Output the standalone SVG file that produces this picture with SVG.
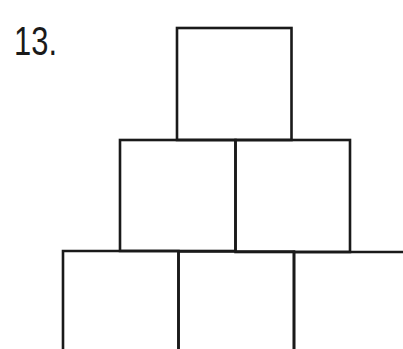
<svg xmlns="http://www.w3.org/2000/svg" width="403" height="349" viewBox="0 0 403 349">
<style>
.box{fill:none;stroke:#1a1a1a;stroke-width:2.6;stroke-linejoin:miter}
.lbl{font-family:"Liberation Sans",Arial,sans-serif;font-size:41px;fill:#1a1a1a}
</style>
<rect width="403" height="349" fill="#ffffff"/>
<text class="lbl" x="14" y="54.5" textLength="43" lengthAdjust="spacingAndGlyphs">13.</text>
<g id="top"><rect class="box" x="177" y="28" width="114.5" height="112"/></g>
<g id="mid-left"><rect class="box" x="120" y="140" width="115.5" height="111"/></g>
<g id="mid-right"><rect class="box" x="235.5" y="140" width="114.5" height="112"/></g>
<g id="bot-left"><path class="box" d="M63,352 V251 H178.5 V352"/></g>
<g id="bot-mid"><path class="box" d="M178.5,352 V251.5 H294 V352"/></g>
<g id="bot-right"><path class="box" d="M294,352 V252 H405"/></g>
</svg>
